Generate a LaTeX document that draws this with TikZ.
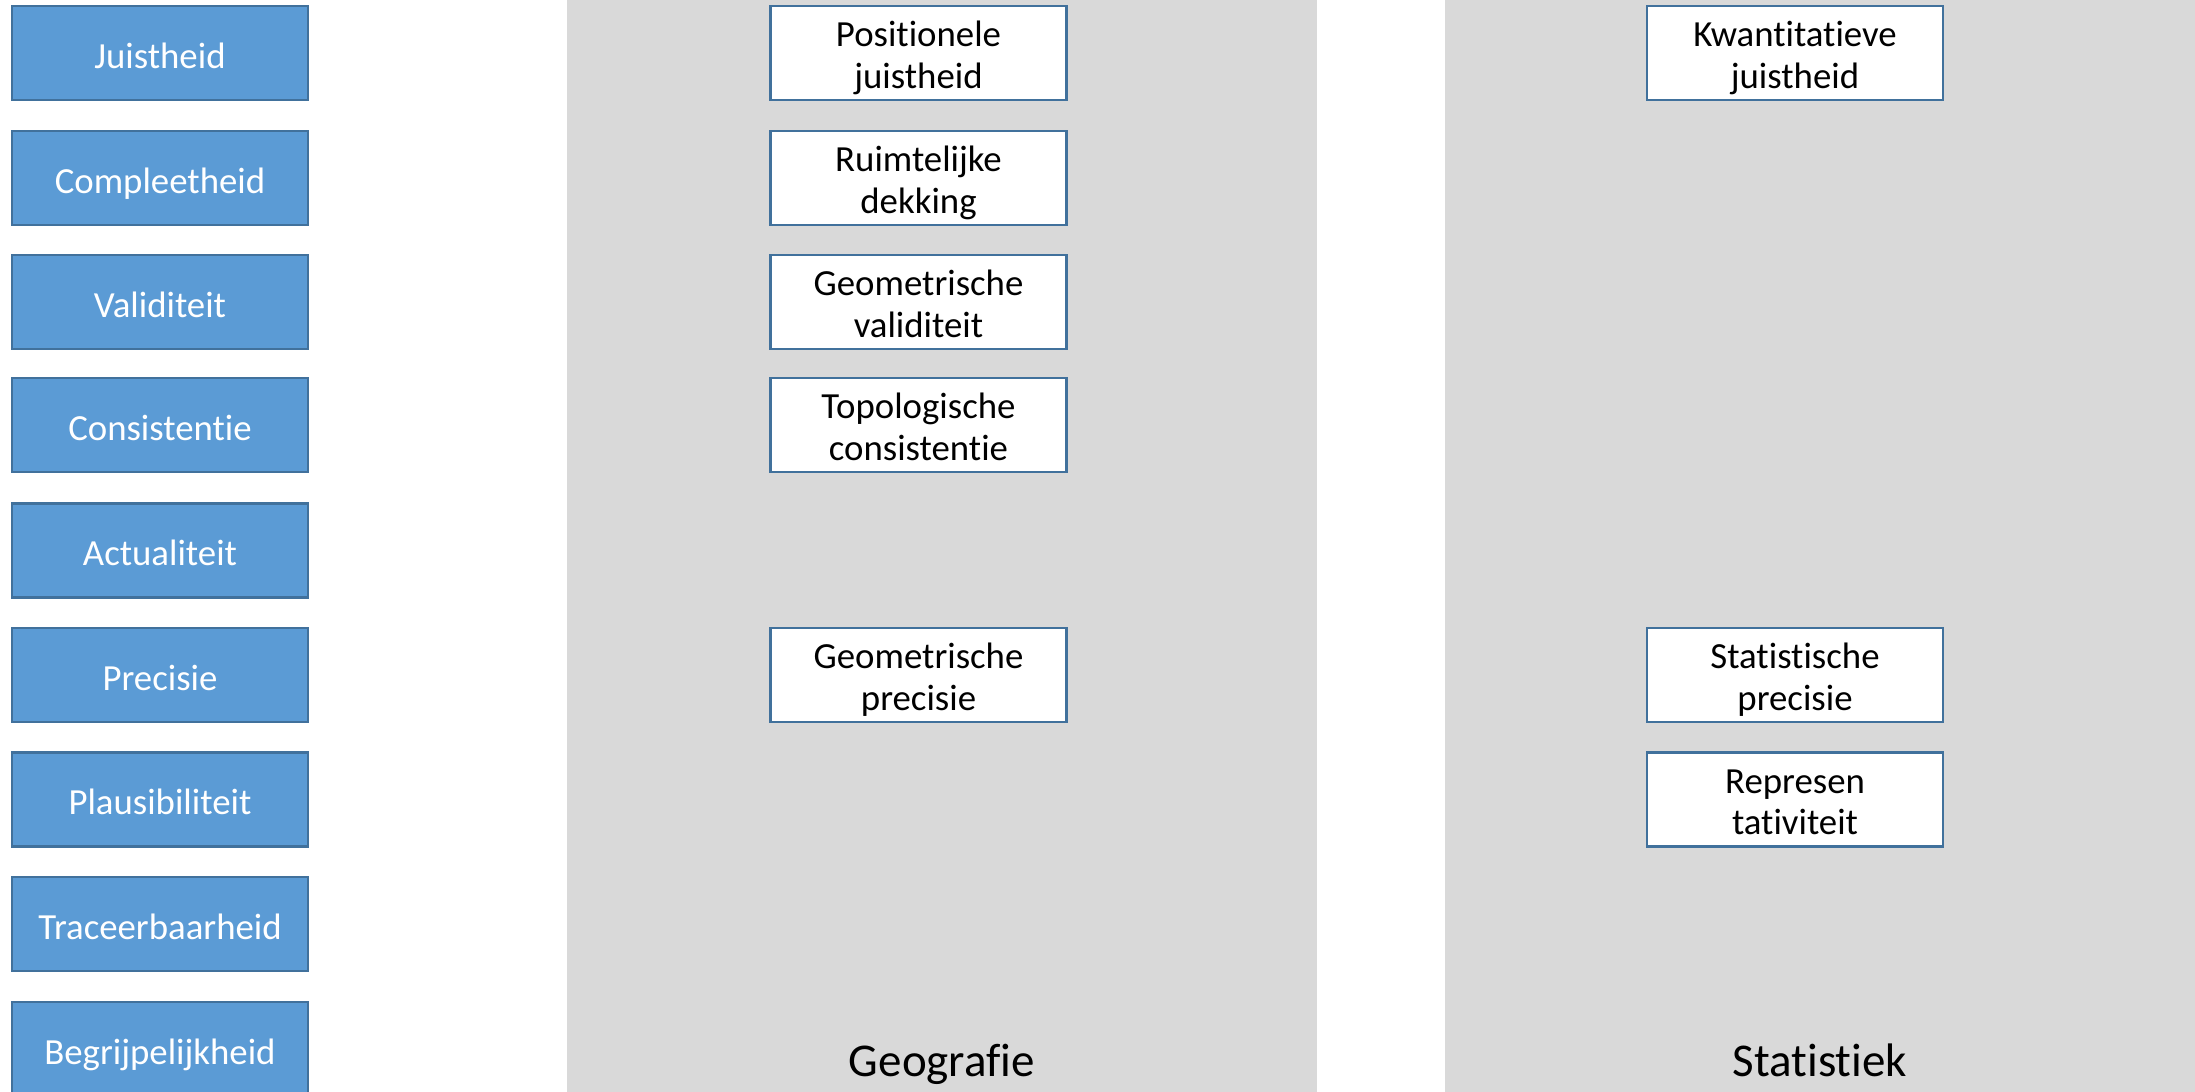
\documentclass[tikz,border=0pt]{standalone}
\usepackage{fontspec}
\setmainfont{Carlito}[Ligatures={NoCommon}]
\XeTeXinterchartokenstate=1
\XeTeXcharclass`t=101
\XeTeXcharclass`i=102
\XeTeXinterchartoks 101 102 = {\kern0pt }
\definecolor{boxblue}{HTML}{5B9BD5}
\definecolor{edgeblue}{HTML}{41719C}
\definecolor{panelgray}{HTML}{D9D9D9}
\newcommand{\mytwo}[2]{\begin{tabular}[t]{@{}c@{}}#1\\#2\end{tabular}}
\begin{document}
\begin{tikzpicture}[x=0.5pt,y=-0.5pt,
  boxbase/.style={line width=1.2pt, minimum width=148pt, minimum height=47pt, inner sep=0pt, font=\fontsize{18.4}{20.9}\selectfont},
  catbox/.style={boxbase, draw=edgeblue, fill=boxblue, text=white, text height=15.3pt, text depth=0pt},
  subbox/.style={boxbase, draw=edgeblue, fill=white, text=black, text height=0pt, text depth=6.3pt},
  panel/.style={fill=panelgray, draw=none, minimum width=375pt, minimum height=546pt, inner sep=0pt},
  paneltitle/.style={font=\fontsize{23.5}{28}\selectfont, anchor=base, inner sep=0pt}]
\useasboundingbox[fill=white] (0,0) rectangle (2195,1092);
% panels
\node[panel] (geo) at (942,546) {};
\node[panel] (stat) at (1820,546) {};
\node[paneltitle] (geotitle) at (942,1076) {Geografie};
\node[paneltitle] (stattitle) at (1820,1076) {Statistiek};
% left categories
\node[catbox] (c1) at (160,53) {Juistheid};
\node[catbox] (c2) at (160,178) {Compleetheid};
\node[catbox] (c3) at (160,302) {Validiteit};
\node[catbox] (c4) at (160,425) {Consistentie};
\node[catbox] (c5) at (160,550.6) {Actualiteit};
\node[catbox] (c6) at (160,675) {Precisie};
\node[catbox] (c7) at (160,799.4) {Plausibiliteit};
\node[catbox] (c8) at (160,923.8) {Traceerbaarheid};
\node[catbox] (c9) at (160,1049) {Begrijpelijkheid};
% geografie
\node[subbox] (g1) at (918.5,53) {\mytwo{Positionele}{juistheid}};
\node[subbox] (g2) at (918.5,178) {\mytwo{Ruimtelijke}{dekking}};
\node[subbox] (g3) at (918.5,302) {\mytwo{Geometrische}{validiteit}};
\node[subbox] (g4) at (918.5,425) {\mytwo{Topologische}{consistentie}};
\node[subbox] (g6) at (918.5,675) {\mytwo{Geometrische}{precisie}};
% statistiek
\node[subbox] (s1) at (1795,53) {\mytwo{Kwantitatieve}{juistheid}};
\node[subbox] (s6) at (1795,675) {\mytwo{Statistische}{precisie}};
\node[subbox] (s7) at (1795,799.4) {\mytwo{Represen}{tativiteit}};
\end{tikzpicture}
\end{document}
